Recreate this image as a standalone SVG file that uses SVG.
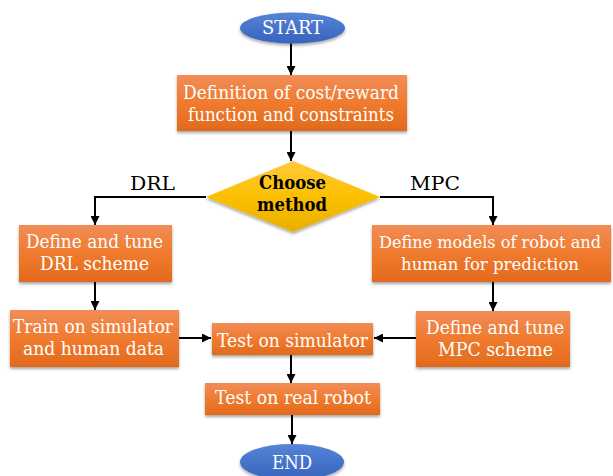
<svg xmlns="http://www.w3.org/2000/svg" width="613" height="476" viewBox="0 0 613 476">
<defs>
<linearGradient id="gOrange" x1="0" y1="0" x2="0" y2="1">
<stop offset="0" stop-color="#F18D58"/><stop offset="0.5" stop-color="#F07A2E"/><stop offset="1" stop-color="#E26A1C"/>
</linearGradient>
<linearGradient id="gBlue" x1="0" y1="0" x2="0" y2="1">
<stop offset="0" stop-color="#5684D6"/><stop offset="1" stop-color="#3763BE"/>
</linearGradient>
<linearGradient id="gGold" x1="0" y1="0" x2="0" y2="1">
<stop offset="0" stop-color="#FFC93A"/><stop offset="0.5" stop-color="#FCC000"/><stop offset="1" stop-color="#E9AE00"/>
</linearGradient>
<filter id="sh" x="-10%" y="-10%" width="120%" height="130%">
<feDropShadow dx="0" dy="2" stdDeviation="1.5" flood-color="#000" flood-opacity="0.35"/>
</filter>
<marker id="ah" viewBox="0 0 10 10" refX="10" refY="5" markerWidth="4.5" markerHeight="4.5" orient="auto" markerUnits="strokeWidth">
<path d="M0,0 L10,5 L0,10 z" fill="#000"/>
</marker>
</defs>
<style>
.box{fill:url(#gOrange);filter:url(#sh)}
.ell{fill:url(#gBlue);filter:url(#sh)}
.dia{fill:url(#gGold);filter:url(#sh)}
text{font-family:'DejaVu Serif','Liberation Serif',serif;font-size:18px;text-anchor:middle}
.wt{fill:#fff}
.bt{fill:#000}
.b{font-weight:bold}
.s{font-size:16px}
.c{fill:none;stroke:#000;stroke-width:2;marker-end:url(#ah)}
</style>
<g id="start"><ellipse class="ell" cx="292.5" cy="28" rx="52.5" ry="15.5"/><text class="wt" x="292.5" y="34" textLength="61" lengthAdjust="spacingAndGlyphs">START</text></g>
<g id="def"><rect class="box" x="177" y="75" width="230" height="56"/><text class="wt" x="291" y="99" textLength="216" lengthAdjust="spacingAndGlyphs">Definition of cost/reward</text><text class="wt" x="291" y="121" textLength="206" lengthAdjust="spacingAndGlyphs">function and constraints</text></g>
<g id="choose"><polygon class="dia" points="293,161 380,197 293,232 206,197"/><text class="bt b" x="292.5" y="189" textLength="67" lengthAdjust="spacingAndGlyphs">Choose</text><text class="bt b" x="292" y="211" textLength="70" lengthAdjust="spacingAndGlyphs">method</text></g>
<g id="drl1"><rect class="box" x="19" y="225" width="153" height="57"/><text class="wt" x="94.5" y="248" textLength="137" lengthAdjust="spacingAndGlyphs">Define and tune</text><text class="wt" x="94.5" y="270" textLength="109" lengthAdjust="spacingAndGlyphs">DRL scheme</text></g>
<g id="drl2"><rect class="box" x="10" y="310" width="169" height="57"/><text class="wt" x="93" y="333" textLength="160" lengthAdjust="spacingAndGlyphs">Train on simulator</text><text class="wt" x="93.5" y="355" textLength="141" lengthAdjust="spacingAndGlyphs">and human data</text></g>
<g id="mpc1"><rect class="box" x="372" y="225" width="239" height="57"/><text class="wt s" x="490" y="248" textLength="222" lengthAdjust="spacingAndGlyphs">Define models of robot and</text><text class="wt s" x="490" y="270" textLength="178" lengthAdjust="spacingAndGlyphs">human for prediction</text></g>
<g id="mpc2"><rect class="box" x="416" y="311" width="154" height="56"/><text class="wt" x="495" y="334" textLength="138" lengthAdjust="spacingAndGlyphs">Define and tune</text><text class="wt" x="495.5" y="356" textLength="115" lengthAdjust="spacingAndGlyphs">MPC scheme</text></g>
<g id="sim"><rect class="box" x="212" y="323" width="161" height="32"/><text class="wt" x="292.5" y="347" textLength="151" lengthAdjust="spacingAndGlyphs">Test on simulator</text></g>
<g id="real"><rect class="box" x="205" y="383" width="175" height="32"/><text class="wt" x="293" y="404" textLength="156" lengthAdjust="spacingAndGlyphs">Test on real robot</text></g>
<g id="end"><ellipse class="ell" cx="292" cy="462" rx="52" ry="18"/><text class="wt" x="292" y="469" textLength="40" lengthAdjust="spacingAndGlyphs">END</text></g>
<g id="labels"><text class="bt" x="152.5" y="190" textLength="45" lengthAdjust="spacingAndGlyphs">DRL</text><text class="bt" x="435" y="190" textLength="50" lengthAdjust="spacingAndGlyphs">MPC</text></g>
<g id="connectors">
<path class="c" d="M291,43.5 V75"/>
<path class="c" d="M291,131 V161"/>
<path class="c" d="M206,197 H95 V225"/>
<path class="c" d="M380,197 H493 V225"/>
<path class="c" d="M95,282 V310"/>
<path class="c" d="M493,282 V311"/>
<path class="c" d="M179,338 H211"/>
<path class="c" d="M416,338 H374"/>
<path class="c" d="M291,355 V383"/>
<path class="c" d="M292,415 V444"/>
</g>
</svg>
